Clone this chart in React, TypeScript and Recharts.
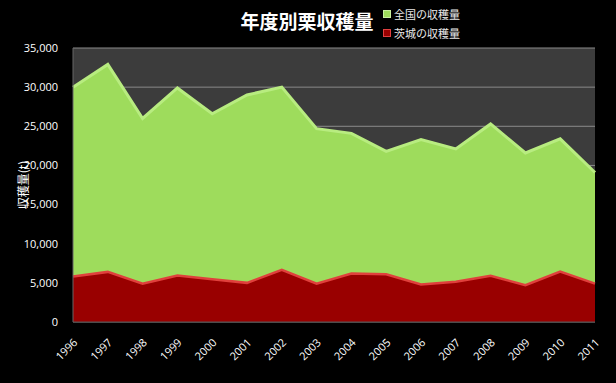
import React from 'react';
import {
  AreaChart,
  Area,
  XAxis,
  YAxis,
  CartesianGrid,
} from 'recharts';

document.body.style.margin = '0';
document.body.style.background = '#000';

const years = [
  '1996', '1997', '1998', '1999', '2000', '2001', '2002', '2003',
  '2004', '2005', '2006', '2007', '2008', '2009', '2010', '2011',
];
const national = [
  30000, 32900, 26000, 29900, 26600, 29000, 30000, 24700,
  24100, 21800, 23300, 22100, 25300, 21600, 23400, 19100,
];
const ibaraki = [
  5800, 6400, 4900, 5950, 5450, 5000, 6650, 4900,
  6200, 6100, 4800, 5150, 5900, 4700, 6450, 4900,
];
const yTicks = [0, 5000, 10000, 15000, 20000, 25000, 30000, 35000];

const data = years.map((y, i) => ({
  year: y,
  national: national[i],
  ibaraki: ibaraki[i],
}));

const tickFont = '"Open Sans", "Noto Sans", sans-serif';
const jpFont = '"Noto Sans CJK JP", sans-serif';

function XTick(props: any) {
  const { x, y, payload } = props;
  const tx = x + 2;
  const ty = y + 10;
  return (
    <text
      x={tx}
      y={ty}
      transform={`rotate(-45 ${tx} ${ty})`}
      textAnchor="end"
      fill="#fff"
      fontSize={11}
      fontFamily={tickFont}
      dominantBaseline="central"
    >
      {payload.value}
    </text>
  );
}

function YLabel(props: any) {
  const { viewBox } = props;
  const cx = 22;
  const cy = viewBox.y + viewBox.height / 2;
  return (
    <text
      x={cx}
      y={cy}
      transform={`rotate(-90 ${cx} ${cy})`}
      textAnchor="middle"
      dominantBaseline="central"
      fill="#fff"
      fontSize={12}
      fontFamily={jpFont}
    >
      収穫量(t)
    </text>
  );
}

function LegendBox() {
  const items = [
    { label: '全国の収穫量', color: '#9edc5c', edge: '#c8f0a0' },
    { label: '茨城の収穫量', color: '#9a0000', edge: '#e04040' },
  ];
  return (
    <div
      style={{
        position: 'absolute',
        left: 383,
        top: 4,
        fontFamily: jpFont,
        fontSize: 11,
        color: '#e8e8e8',
      }}
    >
      {items.map((it) => (
        <div key={it.label} style={{ display: 'flex', alignItems: 'center', height: 19 }}>
          <span
            style={{
              width: 6,
              height: 6,
              background: it.color,
              border: `1px solid ${it.edge}`,
              marginRight: 3,
            }}
          />
          {it.label}
        </div>
      ))}
    </div>
  );
}

export default function App() {
  return (
    <div style={{ position: 'relative', width: 616, height: 383, background: '#000' }}>
      <div
        style={{
          position: 'absolute',
          left: 207,
          top: 7,
          width: 200,
          textAlign: 'center',
          color: '#fff',
          fontFamily: jpFont,
          fontWeight: 'bold',
          fontSize: 19,
          zIndex: 2,
        }}
      >
        年度別栗収穫量
      </div>
      <LegendBox />
      <AreaChart
        width={616}
        height={383}
        data={data}
        margin={{ top: 48, right: 21, left: 0, bottom: 0 }}
      >
        <CartesianGrid
          vertical={false}
          stroke="#8a8a8a"
          fill="#3c3c3c"
          syncWithTicks
        />
        <XAxis
          dataKey="year"
          interval={0}
          tick={<XTick />}
          tickLine={false}
          axisLine={{ stroke: '#555' }}
          height={61}
        />
        <YAxis
          width={73}
          domain={[0, 35000]}
          ticks={yTicks}
          interval={0}
          tickFormatter={(v: number) => v.toLocaleString('en-US')}
          tick={{ fill: '#fff', fontSize: 11, fontFamily: tickFont }}
          tickLine={false}
          axisLine={{ stroke: '#666' }}
          tickMargin={9}
          label={{ content: (p: any) => <YLabel {...p} /> }}
        />
        <Area
          type="linear"
          dataKey="national"
          fill="#9edc5c"
          fillOpacity={1}
          stroke="#b8ec80"
          strokeWidth={3}
          isAnimationActive={false}
        />
        <Area
          type="linear"
          dataKey="ibaraki"
          fill="#990000"
          fillOpacity={1}
          stroke="#e0403c"
          strokeWidth={2.5}
          isAnimationActive={false}
        />
      </AreaChart>
    </div>
  );
}
